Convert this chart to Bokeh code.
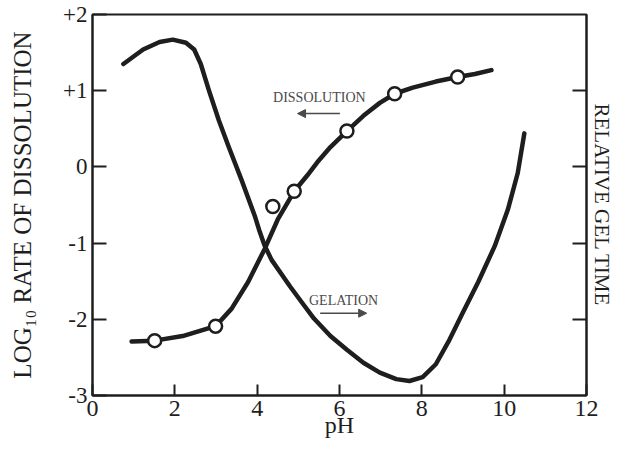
from bokeh.plotting import figure
from bokeh.models import LinearAxis, FixedTicker, Label, Arrow, NormalHead, Range1d
from bokeh.embed import file_html
from bokeh.resources import INLINE

# ---- data ----
x_ticks = [0, 2, 4, 6, 8, 10, 12]
y_ticks = [-3, -2, -1, 0, 1, 2]
y_tick_labels = ["-3", "-2", "-1", "0", "+1", "+2"]

# dissolution: measured points (circles)
diss_ph = [1.51, 2.99, 4.38, 4.90, 6.18, 7.34, 8.87]
diss_rate = [-2.28, -2.09, -0.52, -0.32, 0.47, 0.96, 1.18]

# dissolution: smooth curve
diss_curve_ph = [0.95, 1.51, 2.19, 2.99, 3.38, 3.78, 4.18, 4.50, 4.90, 5.22, 5.46,
                 5.78, 6.18, 6.58, 6.98, 7.34, 7.78, 8.34, 8.87, 9.29, 9.69]
diss_curve_rate = [-2.29, -2.28, -2.22, -2.09, -1.86, -1.51, -1.08, -0.69, -0.32, -0.11, 0.06,
                   0.26, 0.47, 0.67, 0.84, 0.96, 1.04, 1.12, 1.18, 1.22, 1.27]

# gelation: relative gel time curve (drawn on the left scale)
gel_ph = [0.75, 1.23, 1.63, 1.95, 2.27, 2.47, 2.63, 2.83, 3.07, 3.31, 3.62, 3.94, 4.05, 4.18,
          4.35, 4.58, 4.80, 5.06, 5.38, 5.78, 6.18, 6.58, 6.98, 7.38, 7.70, 8.02, 8.34, 8.65,
          8.97, 9.37, 9.77, 10.09, 10.33, 10.49]
gel_time = [1.35, 1.54, 1.64, 1.67, 1.63, 1.54, 1.35, 1.00, 0.61, 0.26, -0.17, -0.64, -0.83, -1.03,
            -1.22, -1.40, -1.57, -1.76, -1.99, -2.22, -2.40, -2.57, -2.70, -2.785, -2.81, -2.76, -2.59, -2.29,
            -1.94, -1.51, -1.04, -0.56, -0.08, 0.44]

SERIF = "Liberation Serif"
INK = "#1e1e1e"
GREY = "#4a4a4a"

p = figure(width=616, height=449, x_range=Range1d(0, 12), y_range=Range1d(-3, 2),
           output_backend="svg", toolbar_location=None,
           min_border_left=92, min_border_right=28, min_border_top=14, min_border_bottom=54)
p.grid.visible = False
p.background_fill_color = "white"
p.border_fill_color = "white"
p.outline_line_color = INK
p.outline_line_width = 2

# bottom axis
xa = p.xaxis[0]
xa.ticker = FixedTicker(ticks=x_ticks)
xa.major_tick_in = 11
xa.major_tick_out = 0
xa.minor_tick_in = 0
xa.minor_tick_out = 0
xa.minor_tick_line_color = None
xa.axis_line_width = 2
xa.axis_line_color = INK
xa.major_tick_line_width = 2
xa.major_tick_line_color = INK
xa.major_label_text_font = SERIF
xa.major_label_text_font_size = "24px"
xa.major_label_text_color = INK
xa.major_label_standoff = 5
xa.axis_label = "pH"
xa.axis_label_text_font = SERIF
xa.axis_label_text_font_style = "normal"
xa.axis_label_text_font_size = "24px"
xa.axis_label_text_color = INK
xa.axis_label_standoff = -7

# left axis
ya = p.yaxis[0]
ya.ticker = FixedTicker(ticks=y_ticks)
ya.major_label_overrides = {t: lab for t, lab in zip(y_ticks, y_tick_labels)}
ya.major_tick_in = 14
ya.major_tick_out = 0
ya.minor_tick_in = 0
ya.minor_tick_out = 0
ya.minor_tick_line_color = None
ya.axis_line_width = 2
ya.axis_line_color = INK
ya.major_tick_line_width = 2
ya.major_tick_line_color = INK
ya.major_label_text_font = SERIF
ya.major_label_text_font_size = "23px"
ya.major_label_text_color = INK
ya.major_label_standoff = 5
ya.axis_label = "LOG\u2081\u2080 RATE OF DISSOLUTION"
ya.axis_label_text_font = SERIF
ya.axis_label_text_font_style = "normal"
ya.axis_label_text_font_size = "25px"
ya.axis_label_text_color = INK
ya.axis_label_standoff = 24

# right axis (relative gel time), ticks only
ra = LinearAxis(ticker=FixedTicker(ticks=y_ticks[1:-1]))
ra.major_label_overrides = {t: "" for t in y_ticks}
ra.major_tick_in = 14
ra.major_tick_out = 0
ra.minor_tick_in = 0
ra.minor_tick_out = 0
ra.minor_tick_line_color = None
ra.axis_line_width = 2
ra.axis_line_color = INK
ra.major_tick_line_width = 2
ra.major_tick_line_color = INK
ra.major_label_standoff = 0
ra.axis_label = "RELATIVE GEL TIME"
ra.axis_label_text_font = SERIF
ra.axis_label_text_font_style = "normal"
ra.axis_label_text_font_size = "21px"
ra.axis_label_text_color = INK
ra.axis_label_standoff = 3
p.add_layout(ra, "right")

# curves
p.line(gel_ph, gel_time, line_width=4.5, line_color=INK, line_join="round", line_cap="round")
p.line(diss_curve_ph, diss_curve_rate, line_width=4.5, line_color=INK,
       line_join="round", line_cap="round")
p.scatter(diss_ph, diss_rate, size=13, marker="circle", fill_color="white",
          line_color=INK, line_width=2.5)

# annotations
p.add_layout(Label(x=5.51, y=0.91, text="DISSOLUTION", text_align="center",
                   text_baseline="middle", text_font=SERIF, text_font_size="14px",
                   text_color=GREY))
p.add_layout(Arrow(x_start=6.01, y_start=0.70, x_end=4.98, y_end=0.70,
                   line_width=1.5, line_color=GREY,
                   end=NormalHead(size=8, fill_color=GREY, line_color=GREY)))
p.add_layout(Label(x=6.10, y=-1.75, text="GELATION", text_align="center",
                   text_baseline="middle", text_font=SERIF, text_font_size="14px",
                   text_color=GREY))
p.add_layout(Arrow(x_start=5.53, y_start=-1.92, x_end=6.66, y_end=-1.92,
                   line_width=1.5, line_color=GREY,
                   end=NormalHead(size=8, fill_color=GREY, line_color=GREY)))

open("out.html", "w").write(file_html(p, INLINE))
